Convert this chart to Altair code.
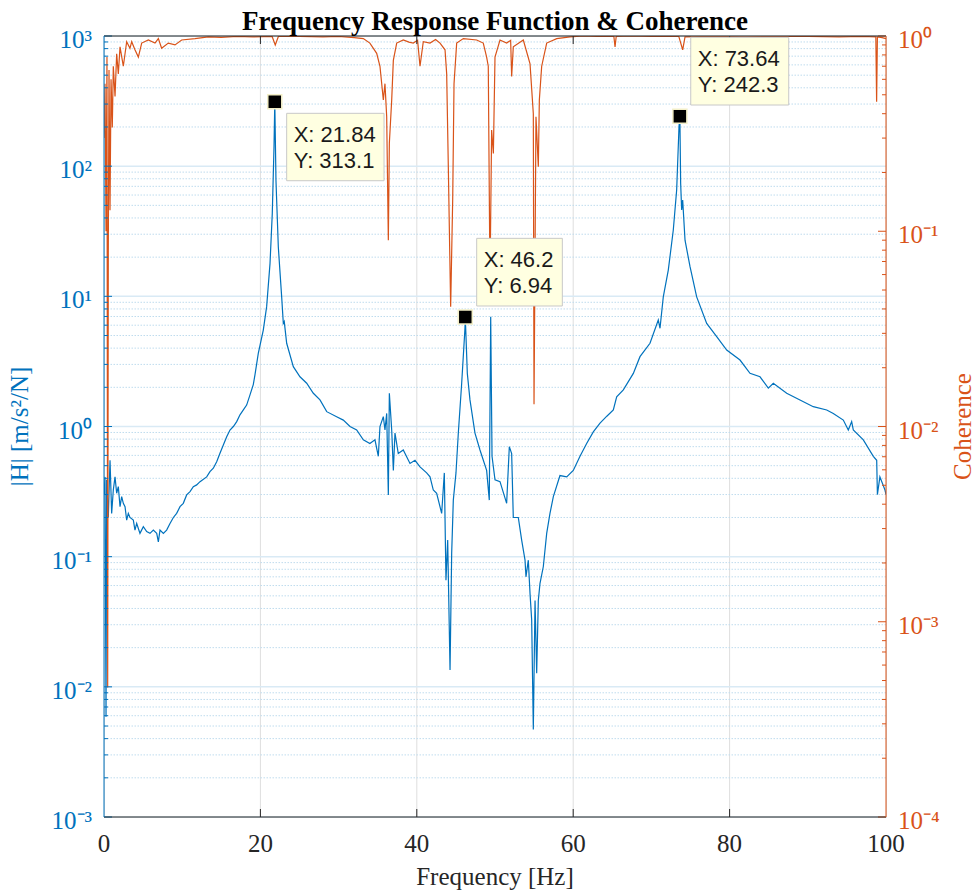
import altair as alt
import pandas as pd

# ---------------- data ----------------
frf_freq = [0.0, 0.13, 0.26, 0.34, 0.55, 0.77, 0.98, 1.19, 1.41, 1.62, 1.83, 2.05, 2.26, 2.47, 2.69,
            2.9, 3.11, 3.32, 3.75, 3.96, 4.18, 4.6, 5.03, 5.46, 5.88, 6.31, 6.74, 6.95, 7.16, 7.59,
            8.01, 8.44, 8.87, 9.29, 9.72, 10.14, 10.57, 11.0, 11.42, 11.85, 12.28, 13.13, 13.55,
            13.98, 14.41, 14.83, 15.26, 15.69, 16.11, 16.54, 16.97, 17.39, 17.82, 18.24, 18.67,
            19.09, 19.31, 19.73, 20.37, 20.8, 21.23, 21.52, 21.74, 21.84, 21.99, 22.29, 22.72,
            22.93, 23.05, 23.36, 24.21, 25.06, 25.92, 26.77, 27.62, 28.48, 29.75, 30.6, 31.46,
            32.31, 33.16, 34.0, 34.65, 35.08, 35.29, 35.72, 35.93, 36.15, 36.36, 36.49, 36.79,
            37.0, 37.21, 37.63, 38.27, 39.13, 39.77, 40.41, 41.26, 41.69, 42.11, 42.54, 43.18,
            43.52, 43.73, 43.95, 44.25, 44.46, 44.67, 45.01, 45.31, 45.74, 46.16, 46.2, 46.46,
            46.8, 47.44, 48.08, 48.93, 49.27, 49.45, 49.62, 50.0, 50.64, 51.49, 51.83, 52.13,
            52.34, 52.98, 53.41, 53.84, 53.96, 54.26, 54.48, 54.69, 54.9, 55.12, 55.33, 55.54,
            55.75, 56.18, 56.61, 57.03, 57.46, 58.31, 59.17, 60.01, 60.87, 61.72, 62.57, 63.43,
            64.3, 65.13, 65.56, 66.41, 67.69, 68.54, 69.82, 70.88, 71.1, 71.52, 72.16, 72.8,
            73.23, 73.53, 73.64, 73.74, 73.87, 74.0, 74.3, 74.94, 75.79, 77.07, 78.35, 79.63,
            81.33, 82.61, 83.89, 84.95, 85.59, 87.3, 89.0, 90.7, 92.42, 93.26, 94.54, 95.18,
            95.61, 95.82, 97.1, 98.38, 98.81, 98.9, 99.22, 99.87, 100.0]
frf_mag = [0.30, 0.41, 0.0059, 0.39, 0.20, 0.55, 0.215, 0.325, 0.41, 0.307, 0.345, 0.242, 0.289,
           0.257, 0.242, 0.191, 0.215, 0.20, 0.191, 0.160, 0.180, 0.151, 0.170, 0.156, 0.151,
           0.160, 0.151, 0.130, 0.160, 0.151, 0.160, 0.180, 0.20, 0.215, 0.242, 0.257, 0.298,
           0.316, 0.345, 0.356, 0.377, 0.41, 0.45, 0.478, 0.537, 0.622, 0.721, 0.835, 0.94, 1.0,
           1.09, 1.23, 1.34, 1.46, 1.75, 2.1, 2.5, 3.65, 5.51, 8.33, 17.9, 43.4, 141.0, 313.1,
           78.0, 24.0, 9.9, 6.2, 6.4, 4.36, 2.88, 2.41, 2.15, 1.80, 1.60, 1.30, 1.19, 1.12, 1.0,
           0.94, 0.79, 0.74, 0.79, 0.59, 1.0, 1.19, 0.94, 1.26, 0.298, 1.80, 0.94, 0.46, 0.89,
           0.62, 0.66, 0.52, 0.55, 0.49, 0.44, 0.41, 0.325, 0.307, 0.215, 0.44, 0.066, 0.134,
           0.0135, 0.106, 0.272, 0.44, 0.89, 2.15, 5.68, 6.94, 2.56, 1.60, 0.89, 0.66, 0.46,
           0.272, 6.98, 0.59, 0.39, 0.377, 0.257, 0.70, 0.62, 0.20, 0.20, 0.134, 0.094, 0.070,
           0.094, 0.052, 0.0326, 0.0047, 0.046, 0.0127, 0.046, 0.062, 0.084, 0.151, 0.215,
           0.289, 0.42, 0.41, 0.46, 0.59, 0.74, 0.91, 1.06, 1.2, 1.34, 1.69, 1.91, 2.56, 3.44,
           4.36, 6.58, 5.68, 9.9, 15.9, 32.3, 65.6, 201.0, 242.3, 73.8, 46.0, 55.0, 27.0, 16.9,
           9.9, 6.2, 4.9, 3.87, 3.24, 2.56, 2.41, 1.97, 2.15, 1.80, 1.60, 1.42, 1.34, 1.26, 1.12,
           0.94, 1.09, 0.94, 0.79, 0.59, 0.55, 0.30, 0.41, 0.325, 0.30]

coh_freq = [0.0, 0.13, 0.26, 0.38, 0.47, 0.55, 0.64, 0.77, 0.9, 1.06, 1.19, 1.41, 1.62, 1.83,
            2.05, 2.47, 2.9, 3.32, 3.54, 3.96, 4.39, 4.82, 5.67, 6.52, 6.95, 7.37, 8.22, 9.08,
            9.93, 11.64, 13.34, 15.0, 17.0, 19.0, 21.5, 21.9, 22.3, 25.0, 28.0, 30.0, 32.0,
            33.16, 34.0, 34.87, 35.29, 35.72, 35.93, 36.15, 36.36, 36.49, 36.79, 37.0, 37.43,
            38.27, 39.0, 39.55, 40.1, 40.41, 40.83, 41.69, 42.4, 42.97, 43.61, 43.82, 44.03,
            44.33, 44.59, 44.76, 45.1, 45.95, 47.66, 48.5, 48.93, 49.14, 49.36, 49.57, 49.79,
            50.0, 50.64, 51.49, 52.0, 52.13, 52.34, 53.62, 54.48, 54.9, 54.99, 55.24, 55.54,
            55.67, 55.97, 56.61, 57.89, 59.6, 61.3, 63.0, 65.2, 65.35, 65.5, 67.26, 70.0, 73.5,
            74.0, 74.3, 78.0, 82.0, 86.0, 90.0, 94.0, 97.0, 98.7, 98.8, 98.9, 99.5, 100.0]
coh_val = [0.30, 0.57, 0.10, 0.78, 0.00046, 0.080, 0.67, 0.128, 0.60, 0.34, 0.70, 0.49, 0.81,
           0.64, 0.88, 0.70, 0.935, 0.865, 0.935, 0.85, 0.78, 0.92, 0.954, 0.92, 0.97, 0.865,
           0.92, 0.90, 0.954, 0.97, 0.99, 0.985, 0.995, 0.99, 0.995, 0.90, 0.995, 0.995, 0.99,
           0.995, 0.98, 0.97, 0.92, 0.815, 0.70, 0.47, 0.57, 0.386, 0.090, 0.282, 0.47, 0.75,
           0.92, 0.954, 0.93, 0.92, 0.95, 0.70, 0.935, 0.92, 0.96, 0.92, 0.85, 0.64, 0.214,
           0.041, 0.146, 0.57, 0.92, 0.97, 0.954, 0.92, 0.78, 0.70, 0.056, 0.33, 0.25, 0.78,
           0.954, 0.92, 0.95, 0.62, 0.88, 0.954, 0.72, 0.40, 0.013, 0.386, 0.214, 0.47, 0.70,
           0.92, 0.97, 0.99, 1.0, 0.995, 0.995, 0.88, 0.995, 1.0, 0.995, 0.995, 0.85, 0.99,
           0.995, 0.99, 0.995, 0.995, 0.99, 0.995, 0.99, 0.46, 0.99, 0.98, 0.97]

peak_freq = [21.84, 46.2, 73.64]
peak_mag = [313.1, 6.94, 242.3]
tip_line1 = ["X: 21.84", "X: 46.2", "X: 73.64"]
tip_line2 = ["Y: 313.1", "Y: 6.94", "Y: 242.3"]
tip_left = [23.36, 47.66, 75.03]
tip_right = [35.81, 58.61, 87.56]
tip_top = [254.7, 27.9, 977.0]
tip_bottom = [77.3, 8.43, 295.0]

chart_title = ["Frequency Response Function & Coherence"]
x_title = ["Frequency [Hz]"]
left_title = ["|H| [m/s\u00b2/N]"]
right_title = ["Coherence"]

x_ticks = [0, 20, 40, 60, 80, 100]
x_tick_labels = ["0", "20", "40", "60", "80", "100"]
x_inner_ticks = [20, 40, 60, 80]
left_major = [1e-3, 1e-2, 1e-1, 1e0, 1e1, 1e2, 1e3]
left_labels = ["10\u207b\u00b3", "10\u207b\u00b2", "10\u207b\u00b9", "10\u2070",
               "10\u00b9", "10\u00b2", "10\u00b3"]
right_major = [1e-4, 1e-3, 1e-2, 1e-1, 1e0]
right_labels = ["10\u207b\u2074", "10\u207b\u00b3", "10\u207b\u00b2", "10\u207b\u00b9",
                "10\u2070"]
left_minor = [m * d for d in left_major[:-1] for m in range(2, 10)]
right_minor = [m * d for d in right_major[:-1] for m in range(2, 10)]

# ---------------- styling ----------------
W, H = 782, 781
BLUE = "#0072BD"
ORANGE = "#D95319"
DARK = "#262626"
SERIF = "Liberation Serif"
SANS = "Liberation Sans"

xs = alt.Scale(domain=[0, 100], nice=False, zero=False)
ly = alt.Scale(type="log", domain=[1e-3, 1e3], nice=False)
ry = alt.Scale(type="log", domain=[1e-4, 1], nice=False)

frf_df = pd.DataFrame({"f": frf_freq, "H": frf_mag})
coh_df = pd.DataFrame({"f": coh_freq, "C": coh_val})
peaks_df = pd.DataFrame({"f": peak_freq, "H": peak_mag})
tips_df = pd.DataFrame({"l": tip_left, "r": tip_right, "top": tip_top, "bot": tip_bottom,
                        "t1": tip_line1, "t2": tip_line2})
xlab_df = pd.DataFrame({"f": x_ticks, "t": x_tick_labels})
llab_df = pd.DataFrame({"v": left_major, "t": left_labels})
rlab_df = pd.DataFrame({"v": right_major, "t": right_labels})


def X(field):
    return alt.X(field, scale=xs, axis=None)


def YL(field):
    return alt.Y(field, scale=ly, axis=None)


def YR(field):
    return alt.Y(field, scale=ry, axis=None)


one = pd.DataFrame({"k": [0]})

xgrid = alt.Chart(pd.DataFrame({"f": x_inner_ticks})).mark_rule(
    color="#DEDEDE", strokeWidth=1).encode(x=X("f:Q"))
ygrid_minor = alt.Chart(pd.DataFrame({"v": left_minor})).mark_rule(
    color="#BFDCEE", strokeWidth=1, strokeDash=[1.5, 1.5]).encode(y=YL("v:Q"))
ygrid_major = alt.Chart(pd.DataFrame({"v": left_major})).mark_rule(
    color="#D9EAF5", strokeWidth=1.5).encode(y=YL("v:Q"))

blue_line = alt.Chart(frf_df).mark_line(color=BLUE, strokeWidth=1.2, clip=True).encode(
    x=X("f:Q"), y=YL("H:Q"))
orange_line = alt.Chart(coh_df).mark_line(color=ORANGE, strokeWidth=1.2, clip=True).encode(
    x=X("f:Q"), y=YR("C:Q"))

lt_major = alt.Chart(pd.DataFrame({"v": left_major})).mark_rule(color=BLUE, strokeWidth=1).encode(
    x=alt.value(0), x2=alt.value(8), y=YL("v:Q"))
lt_minor = alt.Chart(pd.DataFrame({"v": left_minor})).mark_rule(color=BLUE, strokeWidth=1).encode(
    x=alt.value(0), x2=alt.value(4), y=YL("v:Q"))
rt_major = alt.Chart(pd.DataFrame({"v": right_major})).mark_rule(color=ORANGE, strokeWidth=1).encode(
    x=alt.value(W - 8), x2=alt.value(W), y=YR("v:Q"))
rt_minor = alt.Chart(pd.DataFrame({"v": right_minor})).mark_rule(color=ORANGE, strokeWidth=1).encode(
    x=alt.value(W - 4), x2=alt.value(W), y=YR("v:Q"))
xt_bottom = alt.Chart(pd.DataFrame({"f": x_inner_ticks})).mark_rule(color=DARK, strokeWidth=1).encode(
    x=X("f:Q"), y=alt.value(H - 8), y2=alt.value(H))
xt_top = alt.Chart(pd.DataFrame({"f": x_inner_ticks})).mark_rule(color=DARK, strokeWidth=1).encode(
    x=X("f:Q"), y=alt.value(0), y2=alt.value(8))

top_border = alt.Chart(one).mark_rule(color=DARK, strokeWidth=1).encode(
    x=alt.value(0), x2=alt.value(W), y=alt.value(0))
bottom_border = alt.Chart(one).mark_rule(color=DARK, strokeWidth=1).encode(
    x=alt.value(0), x2=alt.value(W), y=alt.value(H))
left_border = alt.Chart(one).mark_rule(color=BLUE, strokeWidth=1).encode(
    x=alt.value(0), y=alt.value(0), y2=alt.value(H))
right_border = alt.Chart(one).mark_rule(color=ORANGE, strokeWidth=1).encode(
    x=alt.value(W), y=alt.value(0), y2=alt.value(H))

x_labels = alt.Chart(xlab_df).mark_text(font=SERIF, fontSize=25, color=DARK, align="center",
                                        baseline="alphabetic").encode(
    x=X("f:Q"), y=alt.value(H + 35), text="t:N")
l_labels = alt.Chart(llab_df).mark_text(font=SERIF, fontSize=25, color=BLUE, align="right",
                                        baseline="alphabetic", dy=12).encode(
    x=alt.value(-12), y=YL("v:Q"), text="t:N")
r_labels = alt.Chart(rlab_df).mark_text(font=SERIF, fontSize=25, color=ORANGE, align="left",
                                        baseline="alphabetic", dy=12).encode(
    x=alt.value(W + 12), y=YR("v:Q"), text="t:N")

title_text = alt.Chart(pd.DataFrame({"t": chart_title})).mark_text(
    font=SERIF, fontSize=27, fontWeight="bold", color="black", align="center",
    baseline="alphabetic").encode(x=alt.value(W / 2), y=alt.value(-6), text="t:N")
x_title_text = alt.Chart(pd.DataFrame({"t": x_title})).mark_text(
    font=SERIF, fontSize=25, color=DARK, align="center", baseline="alphabetic").encode(
    x=alt.value(W / 2), y=alt.value(H + 68), text="t:N")
l_title_text = alt.Chart(pd.DataFrame({"t": left_title})).mark_text(
    font=SERIF, fontSize=25, color=BLUE, align="center", baseline="middle", angle=270).encode(
    x=alt.value(-84), y=alt.value(H / 2), text="t:N")
r_title_text = alt.Chart(pd.DataFrame({"t": right_title})).mark_text(
    font=SERIF, fontSize=25, color=ORANGE, align="center", baseline="middle", angle=270).encode(
    x=alt.value(W + 77), y=alt.value(H / 2), text="t:N")

tip_boxes = alt.Chart(tips_df).mark_rect(fill="#FFFFE1", stroke="#C8C8C8", strokeWidth=1).encode(
    x=X("l:Q"), x2="r:Q", y=YL("top:Q"), y2="bot:Q")
tip_text1 = alt.Chart(tips_df).mark_text(align="left", baseline="middle", dx=7, dy=22,
                                         font=SANS, fontSize=22, color="#1a1a1a").encode(
    x=X("l:Q"), y=YL("top:Q"), text="t1:N")
tip_text2 = alt.Chart(tips_df).mark_text(align="left", baseline="middle", dx=7, dy=48,
                                         font=SANS, fontSize=22, color="#1a1a1a").encode(
    x=X("l:Q"), y=YL("top:Q"), text="t2:N")
markers = alt.Chart(peaks_df).mark_square(size=196, filled=True, fill="black", stroke="#F3EFC8",
                                          strokeWidth=1.5, opacity=1).encode(
    x=X("f:Q"), y=YL("H:Q"))

chart = alt.layer(
    xgrid, ygrid_minor, ygrid_major, blue_line, orange_line,
    lt_major, lt_minor, rt_major, rt_minor, xt_bottom, xt_top,
    top_border, bottom_border, left_border, right_border,
    x_labels, l_labels, r_labels, title_text, x_title_text, l_title_text, r_title_text,
    tip_boxes, tip_text1, tip_text2, markers,
).resolve_scale(y="independent").properties(
    width=W, height=H,
    autosize=alt.AutoSizeParams(type="none"),
    padding={"left": 104, "top": 36, "right": 89, "bottom": 77},
).configure_view(stroke=None).configure(background="white")

chart.save("out.html", embed_options={"renderer": "svg", "actions": False})
